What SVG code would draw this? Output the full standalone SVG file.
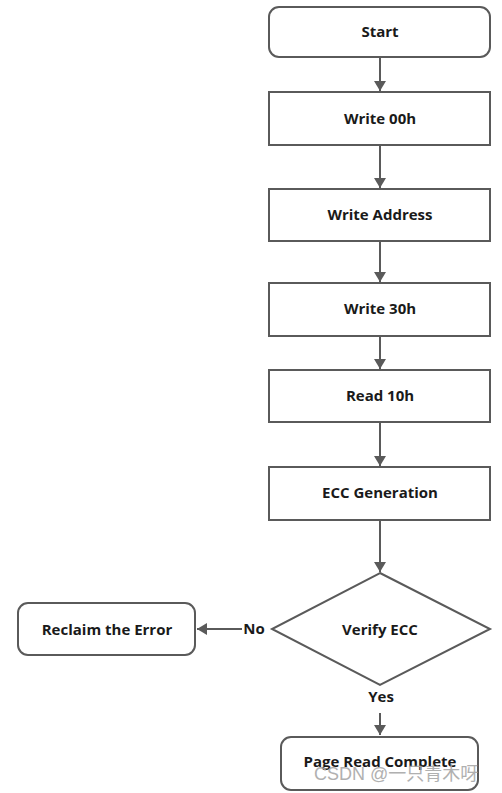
<svg xmlns="http://www.w3.org/2000/svg" width="502" height="793" viewBox="0 0 502 793">
<style>
.n{fill:#fff;stroke:#5a5a5a;stroke-width:2}
.t{font-family:"Open Sans","Noto Sans",sans-serif;font-weight:bold;font-size:15px;fill:#1a1a1a;text-anchor:middle;dominant-baseline:central}
.c{stroke:#5a5a5a;stroke-width:2;fill:none}
.wm{font-family:"Liberation Sans","Noto Sans CJK SC",sans-serif;font-size:18px;fill:#a8a8a8;opacity:0.9}
</style>
<defs>
<marker id="ah" markerWidth="10" markerHeight="12" refX="10" refY="6" orient="auto" markerUnits="userSpaceOnUse">
<path d="M0,0 L10,6 L0,12 z" fill="#5a5a5a"/>
</marker>
</defs>
<rect width="502" height="793" fill="#fff"/>
<g id="connectors">
<line class="c" x1="380" y1="57" x2="380" y2="91" marker-end="url(#ah)"/>
<line class="c" x1="380" y1="145" x2="380" y2="188" marker-end="url(#ah)"/>
<line class="c" x1="380" y1="241" x2="380" y2="282" marker-end="url(#ah)"/>
<line class="c" x1="380" y1="336" x2="380" y2="369" marker-end="url(#ah)"/>
<line class="c" x1="380" y1="422" x2="380" y2="466" marker-end="url(#ah)"/>
<line class="c" x1="380" y1="520" x2="380" y2="572" marker-end="url(#ah)"/>
<line class="c" x1="242" y1="629" x2="197" y2="629" marker-end="url(#ah)"/>
<line class="c" x1="380" y1="713" x2="380" y2="735" marker-end="url(#ah)"/>
</g>
<g id="start"><rect class="n" x="269" y="7" width="221" height="50" rx="10"/><text class="t" x="380" y="31">Start</text></g>
<g id="write00h"><rect class="n" x="269" y="92" width="221" height="53"/><text class="t" x="380" y="118">Write 00h</text></g>
<g id="writeAddress"><rect class="n" x="269" y="189" width="221" height="52"/><text class="t" x="380" y="214">Write Address</text></g>
<g id="write30h"><rect class="n" x="269" y="283" width="221" height="53"/><text class="t" x="380" y="308">Write 30h</text></g>
<g id="read10h"><rect class="n" x="269" y="370" width="221" height="52"/><text class="t" x="380" y="395">Read 10h</text></g>
<g id="eccGen"><rect class="n" x="269" y="467" width="221" height="53"/><text class="t" x="380" y="492">ECC Generation</text></g>
<g id="verifyEcc"><polygon class="n" points="380,573 490,629 380,685 272,629"/><text class="t" x="380" y="629">Verify ECC</text></g>
<g id="reclaim"><rect class="n" x="18" y="603" width="177" height="52" rx="10"/><text class="t" x="107" y="629">Reclaim the Error</text></g>
<g id="pageRead"><rect class="n" x="281" y="737" width="197" height="53" rx="10"/><text class="t" x="380" y="761">Page Read Complete</text></g>
<text class="t" x="254" y="628">No</text>
<text class="t" x="381" y="696">Yes</text>
<text class="wm" x="314" y="780">CSDN @一只青木呀</text>
</svg>
